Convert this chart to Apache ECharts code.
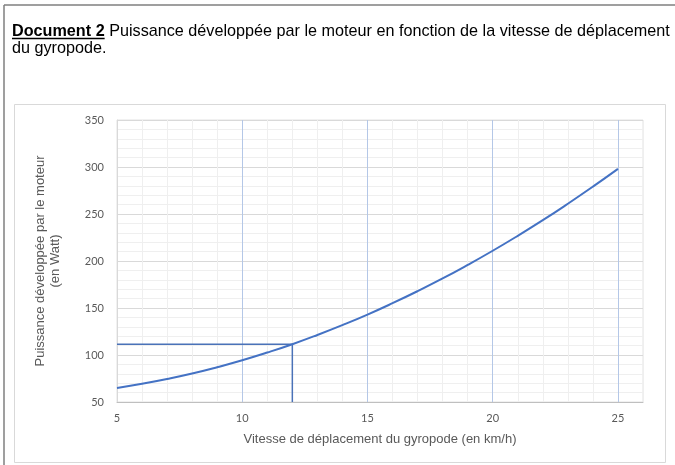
<!DOCTYPE html>
<html>
<head>
<meta charset="utf-8">
<script src="https://cdn.jsdelivr.net/npm/echarts@6/dist/echarts.min.js"></script>
<style>
  html, body { margin: 0; padding: 0; background: #fff; }
  #chart { width: 675px; height: 465px; }
</style>
</head>
<body>
<div id="chart"></div>
<script>
// Vitesse du gyropode (km/h) et puissance (W)
const speeds = [5, 6, 7, 8, 9, 10, 11, 12, 13, 14, 15, 16, 17, 18, 19, 20, 21, 22, 23, 24, 25];
const power  = [65, 69.4, 74.5, 80.3, 87.0, 94.4, 102.6, 111.5, 121.3, 131.8, 143.0,
                155.1, 167.9, 181.4, 195.8, 210.9, 226.8, 243.4, 260.9, 279.1, 298.0];
// Lecture graphique : vitesse de 12 km/h
const readSpeed = 12;
const xLabelsShown = [5, 10, 15, 20, 25];
const yTicks = [50, 100, 150, 200, 250, 300, 350];

const readPower = power[speeds.indexOf(readSpeed)];
const curveData = speeds.map((v, i) => [v, power[i]]);
const readData = [[speeds[0], readPower], [readSpeed, readPower], [readSpeed, yTicks[0]]];

const titleFont = '"Liberation Sans", Arial, sans-serif';
const titleSize = 16.2;
const boldLabel = 'Document 2';
const measure = document.createElement('canvas').getContext('2d');
measure.font = 'bold ' + titleSize + 'px ' + titleFont;
const boldWidth = measure.measureText(boldLabel).width;

const chart = echarts.init(document.getElementById('chart'), null, { renderer: 'canvas' });

chart.setOption({
  animation: false,
  backgroundColor: '#ffffff',
  graphic: [
    // cadre du document
    { type: 'line', shape: { x1: 4, y1: 5, x2: 675, y2: 5 }, style: { stroke: '#7f7f7f', lineWidth: 1.5 } },
    { type: 'line', shape: { x1: 4, y1: 5, x2: 4, y2: 465 }, style: { stroke: '#7f7f7f', lineWidth: 1.5 } },
    // cadre du graphique
    { type: 'rect', shape: { x: 14.5, y: 104.5, width: 651, height: 358 }, style: { fill: 'none', stroke: '#d9d9d9', lineWidth: 1 }, z: 0 },
    {
      type: 'text', left: 12, top: 23,
      style: {
        text: '{b|' + boldLabel + '} Puissance développée par le moteur en fonction de la vitesse de déplacement\ndu gyropode.',
        font: titleSize + 'px ' + titleFont,
        fill: '#000',
        lineHeight: 17,
        rich: { b: { fontWeight: 'bold', fontSize: titleSize, fontFamily: titleFont, fill: '#000', lineHeight: 17 } }
      }
    },
    { type: 'line', shape: { x1: 12, y1: 38.5, x2: 12 + boldWidth, y2: 38.5 }, style: { stroke: '#000', lineWidth: 1.3 } }
  ],
  grid: {
    left: 117, right: 32, top: 120, bottom: 63,
    show: true, borderColor: '#e3e3e3', borderWidth: 1
  },
  xAxis: {
    type: 'value', min: 5, max: 26, interval: 1,
    name: 'Vitesse de déplacement du gyropode (en km/h)',
    nameLocation: 'middle', nameGap: 31,
    nameTextStyle: { color: '#595959', fontSize: 13, fontFamily: titleFont },
    axisLine: { show: true, lineStyle: { color: '#bfbfbf', width: 1 } },
    axisTick: { show: false },
    axisLabel: {
      interval: 0, margin: 11, color: '#595959', fontSize: 11, fontFamily: 'Lato, "Open Sans", sans-serif',
      formatter: v => (xLabelsShown.indexOf(v) >= 0 ? String(v) : '')
    },
    splitLine: { show: true, lineStyle: { color: ['#b4c7e7', '#efefef', '#efefef', '#efefef', '#efefef'], width: 1 } }
  },
  yAxis: {
    type: 'value', min: yTicks[0], max: yTicks[yTicks.length - 1], interval: 50,
    name: 'Puissance développée par le moteur\n(en Watt)',
    nameLocation: 'middle', nameGap: 54,
    nameTextStyle: { color: '#595959', fontSize: 13, fontFamily: titleFont, lineHeight: 15, align: 'center' },
    axisLine: { show: true, lineStyle: { color: '#d9d9d9', width: 1 } },
    axisTick: { show: false },
    axisLabel: { margin: 13, color: '#595959', fontSize: 11, fontFamily: 'Lato, "Open Sans", sans-serif' },
    splitLine: { show: true, lineStyle: { color: '#d9d9d9', width: 1 } },
    minorTick: { show: false, splitNumber: 5 },
    minorSplitLine: { show: true, lineStyle: { color: '#efefef', width: 1 } }
  },
  series: [
    {
      name: 'lecture', type: 'line', data: readData,
      showSymbol: false, symbol: 'none', silent: true,
      lineStyle: { color: '#4a72b8', width: 1.5 }, z: 3
    },
    {
      name: 'puissance', type: 'line', data: curveData,
      smooth: true, showSymbol: false, symbol: 'none',
      lineStyle: { color: '#4472c4', width: 2 }, z: 4
    }
  ]
});
</script>
</body>
</html>
